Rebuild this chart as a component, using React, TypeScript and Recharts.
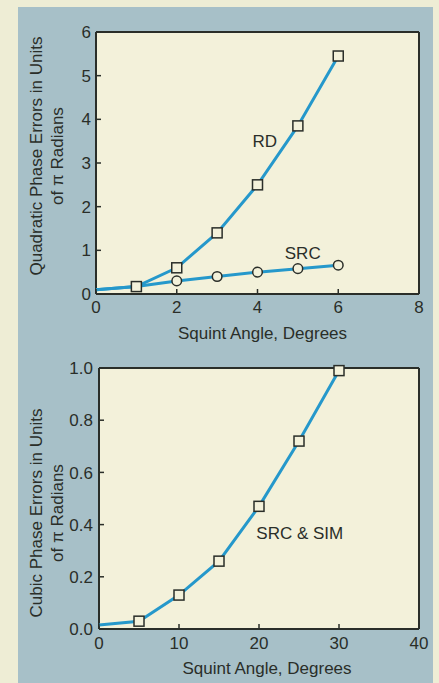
import { LineChart, Line, XAxis, YAxis, CartesianGrid, ReferenceDot } from 'recharts'

// squint angle (degrees) vs. phase error in units of pi radians
const quadAngles = [0, 1, 2, 3, 4, 5, 6]
const rdErrors = [0.1, 0.17, 0.6, 1.4, 2.5, 3.85, 5.45]
const srcErrors = [0.1, 0.17, 0.3, 0.4, 0.5, 0.58, 0.66]
const quadXTicks = [0, 2, 4, 6, 8]
const quadYTicks = [0, 1, 2, 3, 4, 5, 6]

const cubicAngles = [0, 5, 10, 15, 20, 25, 30]
const cubicErrors = [0.015, 0.03, 0.13, 0.26, 0.47, 0.72, 0.99]
const cubicXTicks = [0, 10, 20, 30, 40]
const cubicYTicks = [0, 0.2, 0.4, 0.6, 0.8, 1.0]

const INK = '#2a2e29'
const LINE = '#2598cb'
const PLOT_BG = '#f3f1da'
const FONT = '"Liberation Sans", Arial, Helvetica, sans-serif'
const FS = 17

const quadData = quadAngles.map((a, i) => ({ angle: a, rd: rdErrors[i], src: srcErrors[i] }))
const cubicData = cubicAngles.map((a, i) => ({ angle: a, err: cubicErrors[i] }))

// frame around the plot: grid lines only at the plot edges
const edgeRows = ({ offset }: any) => [offset.top, offset.top + offset.height]
const edgeCols = ({ offset }: any) => [offset.left, offset.left + offset.width]

function SquareDot(props: any) {
  const { cx, cy, index, skip = 1 } = props
  if (cx == null || cy == null || index < skip) return <g />
  return <rect x={cx - 5} y={cy - 5} width={10} height={10} fill={PLOT_BG} stroke={INK} strokeWidth={1.5} />
}

function CircleDot(props: any) {
  const { cx, cy, index } = props
  if (cx == null || cy == null || index < 2) return <g />
  return <circle cx={cx} cy={cy} r={4.8} fill={PLOT_BG} stroke={INK} strokeWidth={1.5} />
}

function XTick({ x, y, payload }: any) {
  return (
    <text x={x} y={y} dy="0.71em" textAnchor="middle" fontSize={FS} fill={INK} fontFamily={FONT}>
      {payload.value}
    </text>
  )
}

function YTick({ x, y, payload, digits = 0 }: any) {
  return (
    <text x={x} y={y} dy="0.36em" textAnchor="end" fontSize={FS} fill={INK} fontFamily={FONT}>
      {Number(payload.value).toFixed(digits)}
    </text>
  )
}

function AxisTitle({ lines, xs, cy }: any) {
  return (
    <g>
      {lines.map((t: string, i: number) => (
        <text key={i} x={xs[i]} y={cy} transform={`rotate(-90 ${xs[i]} ${cy})`}
          textAnchor="middle" dominantBaseline="central" fontSize={FS} fill={INK} fontFamily={FONT}>
          {t}
        </text>
      ))}
    </g>
  )
}

const noteStyle = { fill: INK, fontSize: FS, fontFamily: FONT }

export default function App() {
  return (
    <div style={{ position: 'absolute', left: 0, top: 0, width: 439, height: 683, background: '#eeedd5', overflow: 'hidden', fontFamily: FONT }}>
      <div style={{ position: 'absolute', left: 18, top: 7, width: 415, height: 676, background: '#a7c0c8' }} />

      <div style={{ position: 'absolute', left: 0, top: 0 }}>
        <LineChart width={439} height={350} data={quadData} margin={{ top: 32, right: 20, left: 0, bottom: 0 }}>
          <CartesianGrid fill={PLOT_BG} stroke={INK} strokeWidth={2}
            horizontalCoordinatesGenerator={edgeRows} verticalCoordinatesGenerator={edgeCols} />
          <XAxis dataKey="angle" type="number" domain={[0, 8]} ticks={quadXTicks} height={56} interval={0}
            axisLine={false} tickSize={-5} tickMargin={12} tickLine={{ stroke: INK, strokeWidth: 1.5 }} tick={<XTick />}
            label={{ value: 'Squint Angle, Degrees', position: 'insideBottom', offset: 11, dx: 5, ...noteStyle }} />
          <YAxis type="number" domain={[0, 6]} ticks={quadYTicks} width={96} interval={0}
            axisLine={false} tickSize={-5} tickMargin={10} tickLine={{ stroke: INK, strokeWidth: 1.5 }} tick={<YTick />}
            label={<AxisTitle lines={['Quadratic Phase Errors in Units', 'of \u03c0 Radians']} xs={[36, 57]} cy={156} />} />
          <Line dataKey="src" type="linear" stroke={LINE} strokeWidth={3} dot={<CircleDot />} isAnimationActive={false} />
          <Line dataKey="rd" type="linear" stroke={LINE} strokeWidth={3} dot={<SquareDot skip={1} />} isAnimationActive={false} />
          <ReferenceDot x={4.18} y={3.5} r={0} fill="none" stroke="none"
            label={{ value: 'RD', position: 'center', ...noteStyle }} />
          <ReferenceDot x={5.12} y={0.94} r={0} fill="none" stroke="none"
            label={{ value: 'SRC', position: 'center', ...noteStyle }} />
        </LineChart>
      </div>

      <div style={{ position: 'absolute', left: 0, top: 340 }}>
        <LineChart width={439} height={343} data={cubicData} margin={{ top: 28, right: 20, left: 0, bottom: 0 }}>
          <CartesianGrid fill={PLOT_BG} stroke={INK} strokeWidth={2}
            horizontalCoordinatesGenerator={edgeRows} verticalCoordinatesGenerator={edgeCols} />
          <XAxis dataKey="angle" type="number" domain={[0, 40]} ticks={cubicXTicks} height={54} interval={0}
            axisLine={false} tickSize={-5} tickMargin={13} tickLine={{ stroke: INK, strokeWidth: 1.5 }} tick={<XTick />}
            label={{ value: 'Squint Angle, Degrees', position: 'insideBottom', offset: 9, dx: 8, ...noteStyle }} />
          <YAxis type="number" domain={[0, 1]} ticks={cubicYTicks} width={99} interval={0}
            axisLine={false} tickSize={-5} tickMargin={11} tickLine={{ stroke: INK, strokeWidth: 1.5 }} tick={<YTick digits={1} />}
            label={<AxisTitle lines={['Cubic Phase Errors in Units', 'of \u03c0 Radians']} xs={[36, 57]} cy={173} />} />
          <Line dataKey="err" type="linear" stroke={LINE} strokeWidth={3} dot={<SquareDot skip={1} />} isAnimationActive={false} />
          <ReferenceDot x={25.1} y={0.368} r={0} fill="none" stroke="none"
            label={{ value: 'SRC & SIM', position: 'center', ...noteStyle }} />
        </LineChart>
      </div>
    </div>
  )
}
